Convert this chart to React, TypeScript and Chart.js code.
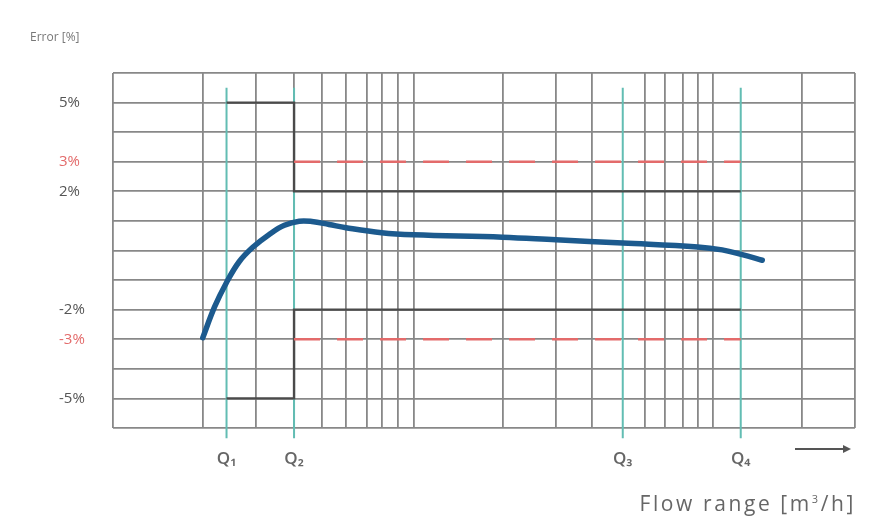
import React, { useEffect, useRef } from "react";
import { Chart, registerables } from "chart.js";

Chart.register(...registerables);

// Flow axis (arbitrary relative units, 0..100)
const gridFlows = [0, 12.1, 19.3, 24.4, 28.2, 31.4, 34.2, 36.2, 38.4, 40.5, 52.5, 59.7, 64.6, 71.7, 74.4, 76.8, 78.8, 80.8, 92.9, 100];
const qFlows = [15.3, 24.4, 68.7, 84.6];
const qLabels = ["Q\u2081", "Q\u2082", "Q\u2083", "Q\u2084"];
const qLineTop = 5.5;
const qLineBottom = -6.35;

// Error axis
const errorTickLabels: Record<string, string> = { "5": "5%", "3": "3%", "2": "2%", "-2": "-2%", "-3": "-3%", "-5": "-5%" };
const redTicks = [3, -3];

// Meter error curve
const curveFlow = [12.1, 13.7, 15.3, 17.0, 18.8, 21.1, 23.1, 25.1, 26.8, 29.1, 31.4, 36.2, 40.5, 52.5, 59.7, 68.7, 78.8, 82.1, 84.8, 87.5];
const curveError = [-2.95, -1.9, -1.08, -0.38, 0.1, 0.55, 0.85, 0.99, 0.98, 0.88, 0.77, 0.6, 0.53, 0.45, 0.36, 0.25, 0.12, 0.02, -0.14, -0.33];

// Maximum permissible error limits
const mpeUpperFlow = [15.3, 24.4, 24.4, 84.6];
const mpeUpperError = [5, 5, 2, 2];
const mpeLowerFlow = [15.3, 24.4, 24.4, 84.6];
const mpeLowerError = [-5, -5, -2, -2];
const dashedFlow = [24.4, 84.6];
const dashedUpper = [3, 3];
const dashedLower = [-3, -3];

const zip = (xs: number[], ys: number[]) => xs.map((x, i) => ({ x, y: ys[i] }));

export default function App() {
  const ref = useRef<HTMLCanvasElement | null>(null);

  useEffect(() => {
    if (!ref.current) return;
    const teal = "#62bdb3";
    const qDatasets = qFlows.map((q) => ({
      type: "line" as const,
      data: [{ x: q, y: qLineTop }, { x: q, y: qLineBottom }],
      borderColor: teal,
      borderWidth: 2,
      pointRadius: 0,
      clip: false as any,
      order: 5,
    }));
    const chart = new Chart(ref.current, {
      type: "line",
      data: {
        datasets: [
          ...qDatasets,
          {
            data: zip(mpeUpperFlow, mpeUpperError),
            borderColor: "#4a4a4a",
            borderWidth: 2.4,
            pointRadius: 0,
            order: 3,
          },
          {
            data: zip(mpeLowerFlow, mpeLowerError),
            borderColor: "#4a4a4a",
            borderWidth: 2.4,
            pointRadius: 0,
            order: 3,
          },
          {
            data: zip(dashedFlow, dashedUpper),
            borderColor: "#e36b6b",
            borderWidth: 2.5,
            borderDash: [26, 17],
            pointRadius: 0,
            order: 2,
          },
          {
            data: zip(dashedFlow, dashedLower),
            borderColor: "#e36b6b",
            borderWidth: 2.5,
            borderDash: [26, 17],
            pointRadius: 0,
            order: 2,
          },
          {
            data: zip(curveFlow, curveError),
            borderColor: "#1c5a8e",
            borderWidth: 5.5,
            borderCapStyle: "round",
            borderJoinStyle: "round",
            tension: 0.4,
            pointRadius: 0,
            order: 0,
          },
        ] as any,
      },
      options: {
        animation: false,
        responsive: true,
        maintainAspectRatio: false,
        layout: { padding: { left: 59, top: 73, right: 18, bottom: 52 } },
        plugins: { legend: { display: false }, tooltip: { enabled: false } },
        scales: {
          x: {
            type: "linear",
            min: 0,
            max: 100,
            afterBuildTicks: (scale: any) => {
              const vals = Array.from(new Set([...gridFlows, ...qFlows])).sort((a, b) => a - b);
              scale.ticks = vals.map((v) => ({ value: v }));
            },
            afterFit: (scale: any) => {
              scale.height = 40;
            },
            border: { display: false },
            grid: {
              drawTicks: false,
              lineWidth: 1.8,
              color: (ctx: any) => {
                const v = ctx.tick ? ctx.tick.value : null;
                if (v !== null && qFlows.includes(v) && !gridFlows.includes(v)) return "rgba(0,0,0,0)";
                return "#888";
              },
            },
            ticks: {
              autoSkip: false,
              maxRotation: 0,
              padding: 21,
              color: "#666",
              font: { family: "Open Sans", size: 17, weight: "600" },
              callback: (value: any) => {
                const i = qFlows.indexOf(Number(value));
                return i >= 0 ? qLabels[i] : "";
              },
            },
          },
          y: {
            type: "linear",
            min: -6,
            max: 6,
            afterFit: (scale: any) => {
              scale.width = 54;
            },
            border: { display: false },
            grid: { drawTicks: false, lineWidth: 1.8, color: "#888" },
            ticks: {
              stepSize: 1,
              padding: 10,
              crossAlign: "far",
              font: { family: "Open Sans", size: 15 },
              color: (ctx: any) => (redTicks.includes(ctx.tick.value) ? "#e36b6b" : "#555"),
              callback: (value: any) => errorTickLabels[String(value)] ?? "",
            },
          },
        },
      },
    });
    return () => chart.destroy();
  }, []);

  return (
    <div style={{ position: "absolute", left: 0, top: 0, width: 876, height: 520, background: "#fff", fontFamily: "Open Sans" }}>
      <canvas ref={ref} />
      <div style={{ position: "absolute", left: 30, top: 28, fontSize: 12, color: "#777" }}>Error [%]</div>
      <div style={{ position: "absolute", right: 20, top: 489, fontSize: 21, letterSpacing: "2.6px", color: "#666" }}>
        Flow range [m<sup style={{ fontSize: 11 }}>3</sup>/h]
      </div>
      <div style={{ position: "absolute", left: 795, top: 448, width: 50, height: 2, background: "#555" }} />
      <div
        style={{
          position: "absolute",
          left: 843,
          top: 445,
          width: 0,
          height: 0,
          borderTop: "4px solid transparent",
          borderBottom: "4px solid transparent",
          borderLeft: "8px solid #555",
        }}
      />
    </div>
  );
}
